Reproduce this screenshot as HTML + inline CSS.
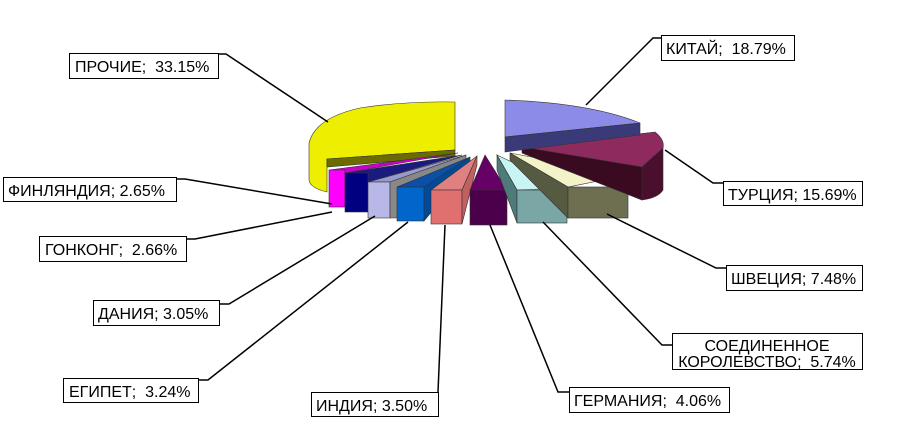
<!DOCTYPE html>
<html><head><meta charset="utf-8"><style>
body{margin:0;background:#fff}
svg{display:block}
text{font-family:"Liberation Sans",Arial,sans-serif;font-size:16px;fill:#000;white-space:pre}
</style></head><body>
<svg width="905" height="448" viewBox="0 0 905 448" xmlns="http://www.w3.org/2000/svg" xml:space="preserve">
<g stroke="#333" stroke-width="0.6">
<path d="M455,102 L455,150 L327,159 L327,192 Q310,188 309,180 L309,143 Q315,118 360,108 Q405,101 455,102 Z" fill="#eeee00"/>
<path d="M455,150 L455,156 L327,167 L327,159 Z" fill="#6b6b00"/>
<path d="M329,170 L458,153 L345,173 Z" fill="#cc00cc"/>
<rect x="329" y="170" width="16" height="37" fill="#ff00ff"/>
<path d="M345,173 L462,155 L368,182 Z" fill="#1a1a80"/>
<rect x="345" y="173" width="23" height="39" fill="#000080"/>
<path d="M368,182 L466,155 L390,182 Z" fill="#9999cc"/>
<rect x="368" y="182" width="22" height="36" fill="#b8b8e8"/>
<path d="M390,182 L466,155 L466,160 L397,218 L390,218 Z" fill="#888"/>
<path d="M397,187 L470,157 L424,187 Z" fill="#0a4fa8"/>
<rect x="397" y="187" width="27" height="34" fill="#0066cc"/>
<path d="M424,187 L470,157 L470,165 L424,221 Z" fill="#004a99"/>
<path d="M431,190 L477,156 L462,190 Z" fill="#e08080"/>
<rect x="431" y="190" width="31" height="34" fill="#e07070"/>
<path d="M462,190 L477,156 L477,165 L462,224 Z" fill="#c06060"/>
<path d="M470,190 L485,155 L507,190 Z" fill="#660066"/>
<rect x="470" y="190" width="37" height="35" fill="#4a004a"/>
<path d="M497,155 L567,188 L517,190 Z" fill="#c8f4f4"/>
<path d="M497,155 L517,190 L517,223 L497,170 Z" fill="#4f7a7a"/>
<rect x="517" y="190" width="50" height="33" fill="#7aa6a6"/>
<path d="M510,153 L628,175 L568,187 Z" fill="#f4f2c8"/>
<path d="M510,153 L568,187 L568,218 L510,160 Z" fill="#555a40"/>
<rect x="568" y="187" width="60" height="31" fill="#6e6e50"/>
<path d="M522,147 L655,132 Q665,140 663,148 L642,167 Z" fill="#8e2a5e"/>
<path d="M522,147 L642,167 L642,200 L522,153 Z" fill="#3a0a20"/>
<path d="M642,167 L663,148 L663,190 Q658,198 642,200 Z" fill="#4a0f2c"/>
<path d="M505,100 Q590,103 640,123 L505,137 Z" fill="#8c8ce8"/>
<path d="M505,137 L640,123 L640,135 L505,152 Z" fill="#3a3a78"/>
</g>
<g stroke="#000" stroke-width="1.5" fill="none">
<polyline points="218,54 226,54 328,122"/>
<polyline points="176,179 185,179 332,204"/>
<polyline points="186,239 195,239 332,212"/>
<polyline points="219,304 229,304 375,216"/>
<polyline points="198,380 208,380 408,222"/>
<polyline points="438,392 445,225"/>
<polyline points="569,392 558,392 490,225"/>
<polyline points="672,345 662,345 543,222"/>
<polyline points="726,268 716,268 607,214"/>
<polyline points="723,183 713,183 665,150"/>
<polyline points="661,38 653,38 586,105"/>
</g>
<g fill="#fff" stroke="#000" stroke-width="1">
<rect x="69.5" y="53.5" width="149" height="25"/>
<rect x="3.5" y="177.5" width="173" height="24"/>
<rect x="39.5" y="236.5" width="147" height="25"/>
<rect x="93.5" y="300.5" width="126" height="25"/>
<rect x="63.5" y="378.5" width="135" height="24"/>
<rect x="311.5" y="392.5" width="127" height="24"/>
<rect x="569.5" y="387.5" width="160" height="25"/>
<rect x="672.5" y="333.5" width="190" height="36"/>
<rect x="726.5" y="265.5" width="136" height="25"/>
<rect x="723.5" y="181.5" width="139" height="24"/>
<rect x="661.5" y="35.5" width="133" height="25"/>
</g>
<text x="75" y="72">ПРОЧИЕ;  33.15%</text>
<text x="8" y="196">ФИНЛЯНДИЯ; 2.65%</text>
<text x="45" y="255">ГОНКОНГ;  2.66%</text>
<text x="98" y="319">ДАНИЯ; 3.05%</text>
<text x="69" y="397">ЕГИПЕТ;  3.24%</text>
<text x="316" y="411">ИНДИЯ; 3.50%</text>
<text x="574" y="406">ГЕРМАНИЯ;  4.06%</text>
<text x="767" y="351" text-anchor="middle">СОЕДИНЕННОЕ</text>
<text x="767" y="367" text-anchor="middle">КОРОЛЕВСТВО;  5.74%</text>
<text x="731" y="284">ШВЕЦИЯ; 7.48%</text>
<text x="728" y="200">ТУРЦИЯ; 15.69%</text>
<text x="666" y="54">КИТАЙ;  18.79%</text>
</svg>
</body></html>
